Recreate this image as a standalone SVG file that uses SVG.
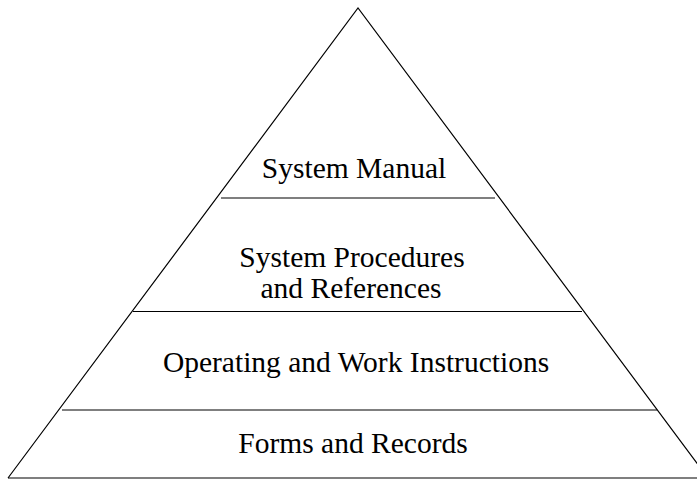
<svg xmlns="http://www.w3.org/2000/svg" width="697" height="479" viewBox="0 0 697 479">
<style>
.ln{stroke:#000;stroke-width:1.2;fill:none}
.t{font-family:"Liberation Serif","Times New Roman",serif;font-size:29.5px;fill:#000;text-anchor:middle}
</style>
<rect width="697" height="479" fill="#fff"/>
<g id="connectors">
<polyline class="ln" points="8,478 358,8 708,478"/>
<line class="ln" x1="8" y1="478" x2="697" y2="478"/>
<line class="ln" x1="221" y1="198" x2="495" y2="198"/>
<line class="ln" x1="133" y1="311.5" x2="582" y2="311.5"/>
<line class="ln" x1="62" y1="410" x2="657" y2="410"/>
</g>
<g id="system-manual"><text class="t" x="354" y="178">System Manual</text></g>
<g id="system-procedures"><text class="t" x="352" y="267">System Procedures</text><text class="t" x="351" y="298">and References</text></g>
<g id="operating"><text class="t" x="356" y="372">Operating and Work Instructions</text></g>
<g id="forms"><text class="t" x="353" y="453">Forms and Records</text></g>
</svg>
